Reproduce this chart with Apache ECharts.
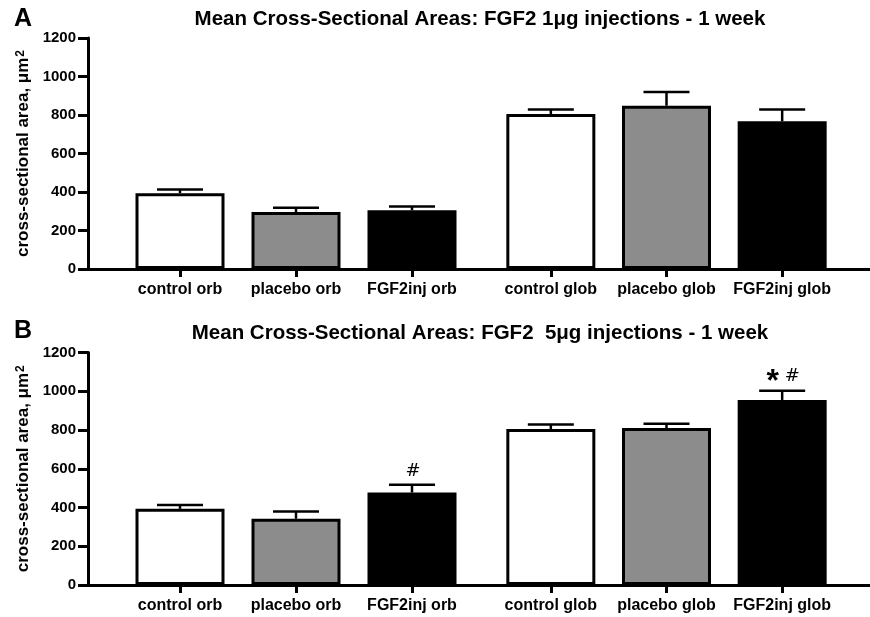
<!DOCTYPE html>
<html>
<head>
<meta charset="utf-8">
<script src="https://cdn.jsdelivr.net/npm/echarts@6/dist/echarts.min.js"></script>
<style>html,body{margin:0;padding:0;background:#fff}#c{width:870px;height:617px}</style>
</head>
<body>
<div id="c"></div>
<script>
// ---- data ----
const categoriesOrb = ['control orb', 'placebo orb', 'FGF2inj orb'];
const categoriesGlob = ['control glob', 'placebo glob', 'FGF2inj glob'];
const barColors = ['#ffffff', '#8c8c8c', '#000000'];

const titleA = 'Mean Cross-Sectional Areas: FGF2 1\u03bcg injections - 1 week';
const titleB = 'Mean Cross-Sectional Areas: FGF2  5\u03bcg injections - 1 week';
const yAxisName = 'cross-sectional area, \u03bcm{sup|2}';
const yMin = 0, yMax = 1200, yInterval = 200;

const meanA_orb = [394, 296, 305];
const errA_orb = [19, 22, 20];
const meanA_glob = [805, 848, 768];
const errA_glob = [24, 72, 61];

const meanB_orb = [393, 342, 477];
const errB_orb = [20, 37, 40];
const meanB_glob = [805, 810, 955];
const errB_glob = [24, 22, 48];

const annA_orb = ['', '', ''];
const annA_glob = ['', '', ''];
const annB_orb = ['', '', '#'];
const annB_glob = ['', '', '{s|*} {h|#}'];

// ---- layout ----
const panels = [
  {top: 38, height: 231, title: titleA, letter: 'A', titleY: 19, letterY: 19,
   orb: [meanA_orb, errA_orb, annA_orb], glob: [meanA_glob, errA_glob, annA_glob]},
  {top: 352.5, height: 232.5, title: titleB, letter: 'B', titleY: 333, letterY: 331,
   orb: [meanB_orb, errB_orb, annB_orb], glob: [meanB_glob, errB_glob, annB_glob]}
];
const FONT = '"Liberation Sans", Arial, sans-serif';

const grids = [], xAxes = [], yAxes = [], series = [], titles = [];

function errRender(ann) {
  return function (params, api) {
    const i = api.value(0), m = api.value(1), e = api.value(2);
    const p0 = api.coord([i, m]);
    const p1 = api.coord([i, m + e]);
    const hw = 23;
    const ch = [
      {type: 'line', shape: {x1: p0[0], y1: p0[1], x2: p1[0], y2: p1[1]}, style: {stroke: '#000', lineWidth: 2.5}},
      {type: 'line', shape: {x1: p1[0] - hw, y1: p1[1], x2: p1[0] + hw, y2: p1[1]}, style: {stroke: '#000', lineWidth: 2.5}}
    ];
    const t = ann[params.dataIndex];
    if (t) {
      ch.push({type: 'text', x: p1[0] + 1, y: p1[1] - 14, style: {
        text: t, align: 'center', verticalAlign: 'middle', fill: '#000',
        font: '18px "DejaVu Sans", sans-serif',
        rich: {s: {fontSize: 32, fontWeight: 'bold', fontFamily: FONT, padding: [11, 0, 0, 0]}, h: {fontSize: 18, fontFamily: '"DejaVu Sans", sans-serif'}}
      }});
    }
    return {type: 'group', children: ch};
  };
}

panels.forEach((p, k) => {
  const base = grids.length;
  grids.push({left: 88, width: 782, top: p.top, height: p.height});
  grids.push({left: 122, width: 348, top: p.top, height: p.height});
  grids.push({left: 493, width: 347, top: p.top, height: p.height});
  // main axes
  xAxes.push({gridIndex: base, type: 'value', min: 0, max: 1, show: true,
    axisLine: {show: true, onZero: true, lineStyle: {color: '#000', width: 3}},
    axisTick: {show: false}, axisLabel: {show: false}, splitLine: {show: false}});
  yAxes.push({gridIndex: base, type: 'value', min: yMin, max: yMax, interval: yInterval,
    axisLine: {show: true, lineStyle: {color: '#000', width: 3}},
    axisTick: {show: true, length: 10, lineStyle: {color: '#000', width: 3}},
    axisLabel: {color: '#000', fontWeight: 'bold', fontSize: 15, fontFamily: FONT, margin: 12,
      formatter: v => String(v)},
    splitLine: {show: false},
    name: yAxisName, nameLocation: 'middle', nameRotate: 90, nameGap: 54,
    nameTextStyle: {color: '#000', fontWeight: 'bold', fontSize: 17, fontFamily: FONT,
      rich: {sup: {fontSize: 12, fontWeight: 'bold', fontFamily: FONT, verticalAlign: 'top', padding: [0, 0, 6, 1]}}}});
  // group axes
  [[categoriesOrb, p.orb], [categoriesGlob, p.glob]].forEach(([cats, d], g) => {
    const gi = base + 1 + g;
    xAxes.push({gridIndex: gi, type: 'category', data: cats,
      axisLine: {show: false}, axisTick: {show: true, alignWithLabel: true, length: 8, lineStyle: {color: '#000', width: 3}},
      axisLabel: {color: '#000', fontWeight: 'bold', fontSize: 16, fontFamily: FONT, margin: 13,
        interval: 0, hideOverlap: false}});
    yAxes.push({gridIndex: gi, type: 'value', min: yMin, max: yMax, interval: yInterval, show: false});
    const xi = xAxes.length - 1, yi = yAxes.length - 1;
    series.push({type: 'bar', xAxisIndex: xi, yAxisIndex: yi, barWidth: 89, z: 2,
      data: d[0].map((v, i) => ({value: v, itemStyle: {color: barColors[i], borderColor: '#000', borderWidth: 3}})),
      animation: false});
    series.push({type: 'custom', xAxisIndex: xi, yAxisIndex: yi, z: 3,
      renderItem: errRender(d[2]),
      data: d[0].map((v, i) => [i, v, d[1][i]]), animation: false});
  });
  titles.push({text: p.title, left: 480, top: p.titleY, textAlign: 'center', textVerticalAlign: 'middle',
    textStyle: {color: '#000', fontWeight: 'bold', fontSize: 20.5, fontFamily: FONT}});
  titles.push({text: p.letter, left: 14, top: p.letterY, textVerticalAlign: 'middle',
    textStyle: {color: '#000', fontWeight: 'bold', fontSize: 25, fontFamily: FONT}});
});

const chart = echarts.init(document.getElementById('c'), null, {renderer: 'canvas'});
chart.setOption({
  backgroundColor: '#fff',
  animation: false,
  title: titles.map(t => Object.assign({padding: 0}, t)),
  grid: grids, xAxis: xAxes, yAxis: yAxes, series: series
});
</script>
</body>
</html>
